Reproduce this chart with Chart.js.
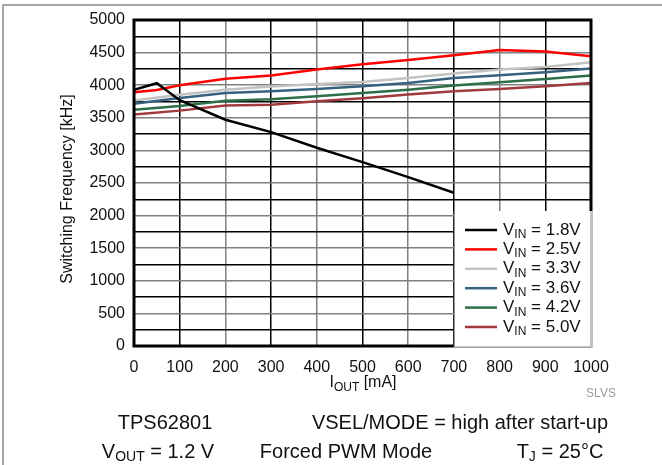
<!DOCTYPE html>
<html>
<head>
<meta charset="utf-8">
<script src="https://cdn.jsdelivr.net/npm/chart.js@4"></script>
<style>
  html, body { margin: 0; padding: 0; background: #fff; }
  #wrap { width: 662px; height: 465px; position: relative; }
</style>
</head>
<body>
<div id="wrap"><canvas id="freqChart"></canvas></div>
<script>
  // output current [mA]
  const iout = [0, 50, 100, 200, 300, 400, 500, 600, 700, 800, 900, 1000];
  // switching frequency [kHz] per input voltage
  const vin18 = [3930, 4030, 3770, 3470, 3280, 3040, 2820, 2590, 2350, null, null, null];
  const vin25 = [3890, 3925, 4000, 4100, 4150, 4240, 4320, 4385, 4460, 4540, 4515, 4445];
  const vin33 = [3765, null, 3855, 3930, 3980, 4020, 4050, 4112, 4180, 4240, 4280, 4352];
  const vin36 = [3717, null, 3805, 3880, 3906, 3943, 3983, 4035, 4112, 4152, 4198, 4255];
  const vin42 = [3625, null, 3680, 3763, 3784, 3830, 3882, 3932, 3994, 4045, 4096, 4147];
  const vin50 = [3550, null, 3610, 3687, 3702, 3753, 3800, 3856, 3906, 3943, 3983, 4035];
  const vinLabels = ['1.8V', '2.5V', '3.3V', '3.6V', '4.2V', '5.0V'];
  const xTicks = [0, 1000, 100];   // min, max, step
  const yTicks = [0, 5000, 250];

  const colors = ['#000000', '#ff0000', '#c3c3c3', '#35637f', '#2d6e48', '#a13a3f'];
  const FONT = '"Liberation Sans", Arial, sans-serif';

  function pts(arr) {
    return iout.map((x, i) => ({ x: x, y: arr[i] }));
  }

  // text made of normal/subscript pieces
  function richWidth(ctx, parts, size) {
    let w = 0;
    parts.forEach(p => {
      ctx.font = (p.sub ? Math.round(size * 0.72) : size) + 'px ' + FONT;
      w += ctx.measureText(p.t).width;
    });
    return w;
  }
  function richText(ctx, parts, x, y, size, align) {
    if (align === 'center') x -= richWidth(ctx, parts, size) / 2;
    ctx.textAlign = 'left';
    ctx.textBaseline = 'middle';
    parts.forEach(p => {
      const s = p.sub ? Math.round(size * 0.72) : size;
      ctx.font = s + 'px ' + FONT;
      ctx.fillText(p.t, x, p.sub ? y + size * 0.28 : y);
      x += ctx.measureText(p.t).width;
    });
  }

  const decorations = {
    id: 'decorations',
    afterDatasetsDraw(chart) {
      const ctx = chart.ctx;
      const a = chart.chartArea;
      const xs = chart.scales.x;
      ctx.save();
      // plot frame
      ctx.strokeStyle = '#000';
      ctx.lineWidth = 3;
      ctx.strokeRect(a.left, a.top, a.right - a.left, a.bottom - a.top);

      // legend box
      const lx = xs.getPixelForValue(700);
      const ly = 211;
      ctx.fillStyle = '#fff';
      ctx.fillRect(lx, ly, a.right + 1.5 - lx, a.bottom + 1.5 - ly);
      ctx.strokeStyle = '#8a8a8a';
      ctx.lineWidth = 1;
      ctx.beginPath();
      ctx.moveTo(lx + 0.5, ly);
      ctx.lineTo(lx + 0.5, a.bottom + 1);
      ctx.lineTo(a.right, a.bottom + 1);
      ctx.moveTo(a.right, ly);
      ctx.lineTo(a.right, a.bottom + 1);
      ctx.stroke();
      ctx.fillStyle = '#111';
      vinLabels.forEach((lab, i) => {
        const y = 230 + i * 19.4;
        ctx.strokeStyle = colors[i];
        ctx.lineWidth = 2.5;
        ctx.beginPath();
        ctx.moveTo(465, y);
        ctx.lineTo(497, y);
        ctx.stroke();
        richText(ctx, [{ t: 'V' }, { t: 'IN', sub: true }, { t: ' = ' + lab }], 503, y, 17);
      });
      ctx.restore();
    },
    afterDraw(chart) {
      const ctx = chart.ctx;
      ctx.save();
      // outer frame
      ctx.strokeStyle = '#8a8a8a';
      ctx.lineWidth = 1.5;
      ctx.beginPath();
      ctx.moveTo(662, 5);
      ctx.lineTo(3, 5);
      ctx.lineTo(3, 465);
      ctx.stroke();

      ctx.fillStyle = '#111';
      // y title
      ctx.save();
      ctx.translate(68, 189);
      ctx.rotate(-Math.PI / 2);
      ctx.font = '16px ' + FONT;
      ctx.textAlign = 'center';
      ctx.textBaseline = 'middle';
      ctx.fillText('Switching Frequency [kHz]', 0, 0);
      ctx.restore();

      // x title
      richText(ctx, [{ t: 'I' }, { t: 'OUT', sub: true }, { t: ' [mA]' }], 363, 383, 16, 'center');

      ctx.fillStyle = '#9a9a9a';
      ctx.font = '12px ' + FONT;
      ctx.textAlign = 'center';
      ctx.textBaseline = 'middle';
      ctx.fillText('SLVS', 601, 394);

      ctx.fillStyle = '#111';
      richText(ctx, [{ t: 'TPS62801' }], 165, 423, 20, 'center');
      richText(ctx, [{ t: 'VSEL/MODE = high after start-up' }], 460, 423, 20, 'center');
      richText(ctx, [{ t: 'V' }, { t: 'OUT', sub: true }, { t: ' = 1.2 V' }], 158, 452, 20, 'center');
      richText(ctx, [{ t: 'Forced PWM Mode' }], 346, 452, 20, 'center');
      richText(ctx, [{ t: 'T' }, { t: 'J', sub: true }, { t: ' = 25°C' }], 560, 452, 20, 'center');
      ctx.restore();
    }
  };

  const series = [vin18, vin25, vin33, vin36, vin42, vin50];

  new Chart(document.getElementById('freqChart'), {
    type: 'line',
    data: {
      datasets: series.map((s, i) => ({
        label: 'VIN = ' + vinLabels[i],
        data: pts(s),
        borderColor: colors[i],
        borderWidth: 2.5,
        pointRadius: 0,
        tension: 0,
        spanGaps: true
      }))
    },
    options: {
      responsive: true,
      maintainAspectRatio: false,
      animation: false,
      layout: { padding: { top: 20, right: 71, bottom: 89, left: 0 } },
      plugins: {
        legend: { display: false },
        tooltip: { enabled: false }
      },
      scales: {
        x: {
          type: 'linear',
          min: xTicks[0],
          max: xTicks[1],
          afterFit: s => { s.height = 30; },
          border: { display: false },
          grid: {
            drawTicks: false,
            lineWidth: 1.5,
            color: c => (c.index % 2 === 1 ? '#000' : '#808080')
          },
          ticks: {
            stepSize: xTicks[2],
            autoSkip: false,
            maxRotation: 0,
            padding: 12,
            color: '#111',
            font: { family: FONT, size: 16 },
            callback: v => String(v)
          }
        },
        y: {
          min: yTicks[0],
          max: yTicks[1],
          afterFit: s => { s.width = 134; },
          border: { display: false },
          grid: {
            drawTicks: false,
            lineWidth: 1.5,
            color: c => (c.tick && c.tick.value % 500 === 0 ? '#808080' : '#000')
          },
          ticks: {
            stepSize: yTicks[2],
            autoSkip: false,
            padding: 9,
            color: '#111',
            font: { family: FONT, size: 16 },
            callback: v => (v % 500 === 0 ? String(v) : '')
          }
        }
      }
    },
    plugins: [decorations]
  });
</script>
</body>
</html>
